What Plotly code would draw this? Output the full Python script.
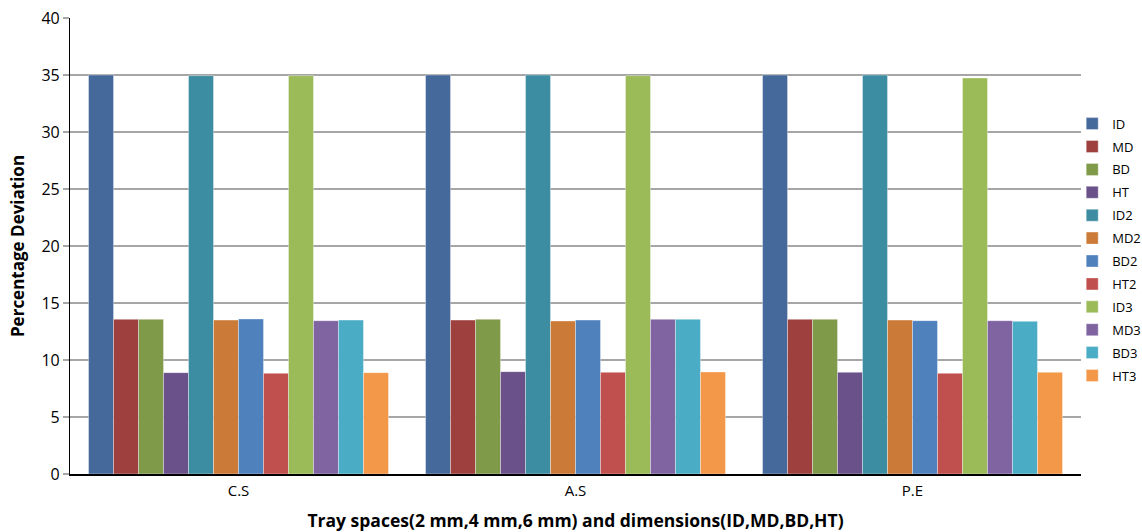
import plotly.graph_objects as go

categories = ["C.S", "A.S", "P.E"]
series_names = ["ID", "MD", "BD", "HT", "ID2", "MD2", "BD2", "HT2", "ID3", "MD3", "BD3", "HT3"]
ID = [35.0, 35.0, 35.0]
MD = [13.57, 13.5, 13.57]
BD = [13.57, 13.57, 13.57]
HT = [8.89, 8.98, 8.92]
ID2 = [34.94, 35.0, 35.0]
MD2 = [13.5, 13.42, 13.5]
BD2 = [13.6, 13.5, 13.45]
HT2 = [8.83, 8.92, 8.83]
ID3 = [34.94, 34.94, 34.74]
MD3 = [13.45, 13.57, 13.45]
BD3 = [13.5, 13.57, 13.39]
HT3 = [8.89, 8.95, 8.92]
series_values = [ID, MD, BD, HT, ID2, MD2, BD2, HT2, ID3, MD3, BD3, HT3]
colors = ["#46699C", "#9E403E", "#7F9A48", "#6A5189", "#3D8DA2", "#CB7B37",
          "#4F81BD", "#C0504D", "#9BBB59", "#8064A2", "#4BACC6", "#F39748"]
y_ticks = [0, 5, 10, 15, 20, 25, 30, 35, 40]

fig = go.Figure()
for name, vals, col in zip(series_names, series_values, colors):
    fig.add_trace(go.Bar(
        name=name, x=categories, y=vals, legendgroup=name,
        marker=dict(color=col, line=dict(color="rgba(255,255,255,0.6)", width=0.6)),
    ))

font_family = "Open Sans, Lato, sans-serif"
fig.update_layout(
    width=1142, height=532,
    barmode="group", bargap=0.11, bargroupgap=0,
    plot_bgcolor="white", paper_bgcolor="white",
    margin=dict(l=70, r=61, t=18, b=58, autoexpand=False),
    font=dict(family=font_family, size=14, color="#000000"),
    showlegend=True,
    legend=dict(x=1.0645, xanchor="right", y=0.492, yanchor="middle",
                font=dict(size=13, color="#000"), tracegroupgap=3,
                itemwidth=30, bgcolor="rgba(0,0,0,0)"),
    xaxis=dict(
        title=dict(text="<b>Tray spaces(2 mm,4 mm,6 mm) and dimensions(ID,MD,BD,HT)</b>",
                   font=dict(size=17.5), standoff=17),
        showline=True, linecolor="#000", linewidth=1.5, automargin=False,
        ticks="", tickfont=dict(size=15), showgrid=False, ticklabelstandoff=2,
    ),
    yaxis=dict(
        title=dict(text="<b>Percentage Deviation</b>", font=dict(size=17), standoff=12),
        range=[0, 40], tickvals=y_ticks, ticks="outside", ticklen=6,
        tickcolor="#A6A6A6", tickwidth=1.5, automargin=False,
        showline=True, linecolor="#000", linewidth=1.2,
        showgrid=True, gridcolor="#A6A6A6", gridwidth=1.5,
        tickfont=dict(size=16), zeroline=False,
    ),
)

fig.write_html("out.html", config={"displayModeBar": False},
               post_script="document.body.style.margin='0';")
